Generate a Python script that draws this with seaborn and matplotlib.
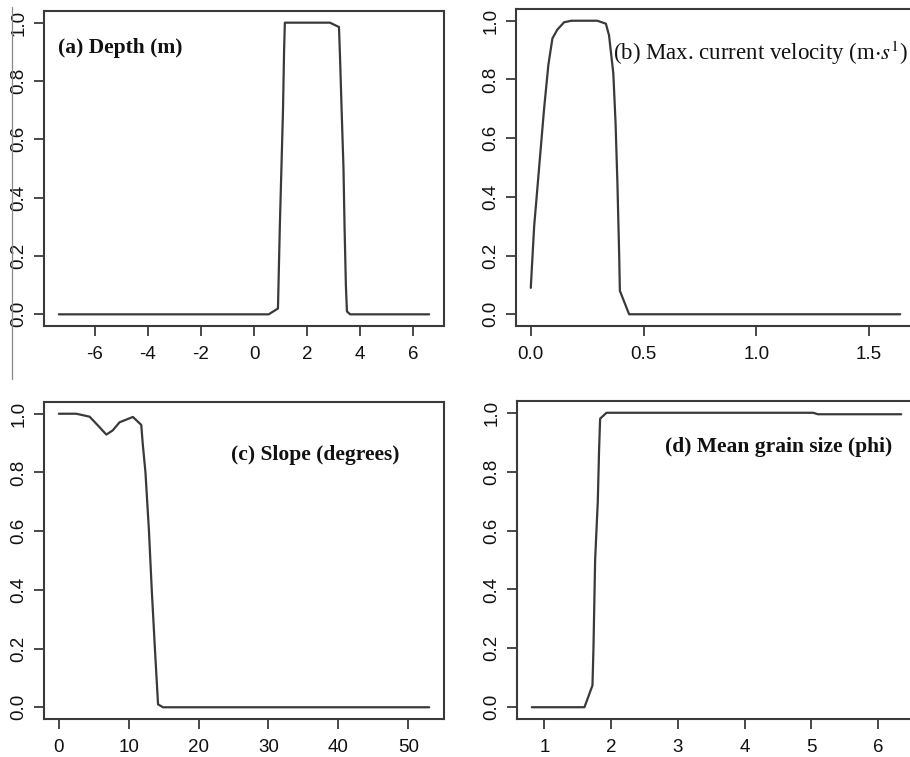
import matplotlib
matplotlib.use("Agg")
import matplotlib.pyplot as plt
from matplotlib.lines import Line2D
from matplotlib.ticker import FormatStrFormatter
import seaborn as sns

sns.set_style("white")
plt.rcParams["font.family"] = ["Liberation Sans", "DejaVu Sans"]
plt.rcParams["mathtext.fontset"] = "stix"
plt.rcParams["axes.unicode_minus"] = False

LINE = "#3a3a3a"
FRAME = "#3a3a3a"

# (a) depth
depth_x = [-7.36, 0.55, 0.9, 0.97, 1.03, 1.09, 1.13, 1.16, 2.86, 3.2, 3.24, 3.3, 3.37, 3.41, 3.46, 3.5, 3.62, 6.6]
depth_y = [0.0, 0.0, 0.02, 0.3, 0.5, 0.7, 0.9, 1.0, 1.0, 0.985, 0.88, 0.7, 0.5, 0.3, 0.1, 0.01, 0.0, 0.0]

# (b) max current velocity
vel_x = [0.0, 0.015, 0.037, 0.059, 0.078, 0.096, 0.118, 0.148, 0.18, 0.295, 0.333, 0.347, 0.366, 0.376, 0.384, 0.392, 0.395, 0.436, 1.638]
vel_y = [0.09, 0.3, 0.5, 0.7, 0.85, 0.94, 0.97, 0.995, 1.0, 1.0, 0.99, 0.95, 0.82, 0.65, 0.45, 0.2, 0.08, 0.0, 0.0]

# (c) slope
slope_x = [0, 2.5, 4.4, 5.6, 6.8, 7.7, 8.7, 10.6, 11.8, 12.0, 12.4, 12.9, 13.3, 13.75, 14.2, 14.9, 53]
slope_y = [1.0, 1.0, 0.99, 0.96, 0.929, 0.943, 0.971, 0.989, 0.962, 0.9, 0.8, 0.6, 0.4, 0.2, 0.01, 0.0, 0.0]

# (d) mean grain size
grain_x = [0.81, 1.6, 1.72, 1.735, 1.76, 1.80, 1.82, 1.835, 1.93, 5.03, 5.1, 6.35]
grain_y = [0.0, 0.0, 0.074, 0.2, 0.5, 0.7, 0.88, 0.98, 1.0, 1.0, 0.995, 0.995]

y_ticks = [0.0, 0.2, 0.4, 0.6, 0.8, 1.0]

panels = [
    # x, y, xticks, title, text position, axes rect in pixels (left, top, right, bottom), weight, size
    (depth_x, depth_y, [-6, -4, -2, 0, 2, 4, 6], "(a) Depth (m)", (0.035, 0.883), (44, 11, 444, 326), "bold", 15.5),
    (vel_x, vel_y, [0.0, 0.5, 1.0, 1.5], r"(b) Max. current velocity (m$\cdot s^{1}$)", (0.2425, 0.861), (516, 9, 915, 326), "normal", 16.5),
    (slope_x, slope_y, [0, 10, 20, 30, 40, 50], "(c) Slope (degrees)", (0.4675, 0.833), (44, 402, 444, 719), "bold", 15.5),
    (grain_x, grain_y, [1, 2, 3, 4, 5, 6], "(d) Mean grain size (phi)", (0.372, 0.855), (517, 401, 916, 719), "bold", 15.5),
]

W, H = 910, 757
fig = plt.figure(figsize=(W / 100, H / 100), dpi=100)

for xs, ys, xt, title, tpos, rect, weight, fsize in panels:
    l, t, r, b = rect
    ax = fig.add_axes([l / W, 1 - b / H, (r - l) / W, (b - t) / H])
    sns.lineplot(x=xs, y=ys, ax=ax, color=LINE, linewidth=1.6, estimator=None)
    ax.margins(x=0.04, y=0.04)
    ax.set_xticks(xt)
    ax.set_yticks(y_ticks)
    ax.yaxis.set_major_formatter(FormatStrFormatter("%.1f"))
    if isinstance(xt[0], float):
        ax.xaxis.set_major_formatter(FormatStrFormatter("%.1f"))
    ax.tick_params(axis="both", direction="out", length=7.5, width=1.3, color=FRAME,
                   bottom=True, left=True, labelsize=13.5, labelcolor="#111111", pad=4.5)
    ax.tick_params(axis="x", pad=7)
    ax.tick_params(axis="y", labelrotation=90)
    plt.setp(ax.get_yticklabels(), va="center")
    for s in ax.spines.values():
        s.set_color(FRAME)
        s.set_linewidth(1.5)
    ax.text(tpos[0], tpos[1], title, transform=ax.transAxes, ha="left", va="center",
            family=["Liberation Serif", "DejaVu Serif"], fontweight=weight, fontsize=fsize,
            color="#111111")

# stray rule at the left edge of the page
fig.add_artist(Line2D([12 / W, 12 / W], [1 - 7 / H, 1 - 379 / H], color="#888888", lw=0.9))

fig.savefig("out.png", dpi=100)
